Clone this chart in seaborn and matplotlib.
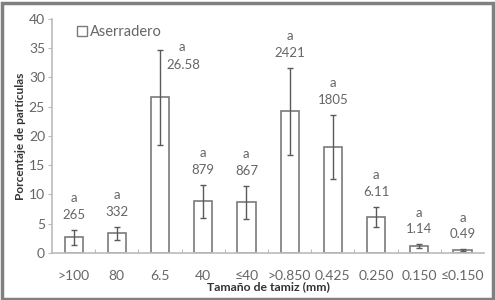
import matplotlib
matplotlib.use("Agg")
import matplotlib.pyplot as plt
import seaborn as sns
import pandas as pd
from matplotlib.patches import Rectangle
from matplotlib.lines import Line2D

categories = [">100", "80", "6.5", "40", "\u226440", ">0.850", "0.425", "0.250", "0.150", "\u22640.150"]
values = [2.65, 3.32, 26.58, 8.79, 8.67, 24.21, 18.05, 6.11, 1.14, 0.49]
errors = [1.25, 1.1, 8.1, 2.8, 2.8, 7.4, 5.5, 1.7, 0.3, 0.1]
value_labels = ["265", "332", "26.58", "879", "867", "2421", "1805", "6.11", "1.14", "0.49"]
letters = ["a"] * 10
series_name = "Aserradero"

df = pd.DataFrame({"Tamiz": categories, "Porcentaje": values, "Serie": series_name})

sns.set_theme(style="white")
plt.rcParams["font.family"] = ["Lato", "DejaVu Sans"]

fig = plt.figure(figsize=(4.95, 3.0), dpi=100)
ax = fig.add_axes([0.105, 0.157, 0.873, 0.78])

grey_edge = "#7a7a7a"
txt = "#666666"

sns.barplot(data=df, x="Tamiz", y="Porcentaje", color="white", edgecolor=grey_edge,
            linewidth=1.2, width=0.42, ax=ax, errorbar=None, order=categories)

xs = list(range(len(categories)))
ax.errorbar(xs, values, yerr=errors, fmt="none", ecolor="#5a5a5a", elinewidth=1.0,
            capsize=2.5, capthick=1.0)

for i, (v, e, lab, let) in enumerate(zip(values, errors, value_labels, letters)):
    top = v + e
    if v > 25:
        ax.annotate(lab, (i, top), xytext=(17, -11), textcoords="offset points",
                    ha="center", va="center", fontsize=9.5, color=txt)
        ax.annotate(let, (i, top), xytext=(16, 2), textcoords="offset points",
                    ha="center", va="center", fontsize=9.5, color=txt)
    else:
        ax.annotate(lab, (i, top), xytext=(0, 11), textcoords="offset points",
                    ha="center", va="center", fontsize=9.5, color=txt)
        ax.annotate(let, (i, top), xytext=(0, 23), textcoords="offset points",
                    ha="center", va="center", fontsize=9.5, color=txt)

ax.set_ylim(0, 40)
ax.set_xlim(-0.5, len(categories) - 0.5)
ax.set_yticks(range(0, 41, 5))
ax.set_xlabel("Tama\u00f1o de tamiz (mm)", fontsize=8.8, color="#333333", fontweight="bold", labelpad=0)
ax.set_ylabel("Porcentaje de part\u00edculas", fontsize=8.6, color="#333333", fontweight="bold", labelpad=2)

for s in ["top", "right"]:
    ax.spines[s].set_visible(False)
for s in ["left", "bottom"]:
    ax.spines[s].set_color("#bbbbbb")
    ax.spines[s].set_linewidth(1.2)

ax.tick_params(axis="y", which="major", left=True, length=3, width=0.8, color="#bbbbbb",
               labelsize=10, labelcolor=txt, pad=2)
ax.tick_params(axis="x", which="major", bottom=False, labelsize=10, labelcolor=txt, pad=6)
ax.set_xticks([x + 0.5 for x in xs[:-1]], minor=True)
ax.tick_params(axis="x", which="minor", bottom=True, direction="in", length=3, width=0.8, color="#bbbbbb")

handle = Line2D([], [], marker="s", linestyle="none", markersize=7, markerfacecolor="white",
                markeredgecolor=grey_edge, markeredgewidth=1.0)
ax.legend([handle], [series_name], loc="upper left", bbox_to_anchor=(0.035, 1.0), frameon=False,
          fontsize=10.5, handletextpad=0.0, handlelength=1.2, labelcolor=txt, borderaxespad=0.0)

fig.patches.append(Rectangle((0.004, 0.005), 0.992, 0.985, transform=fig.transFigure,
                             fill=False, edgecolor="#808080", linewidth=2.5))

fig.savefig("out.png", dpi=100)
